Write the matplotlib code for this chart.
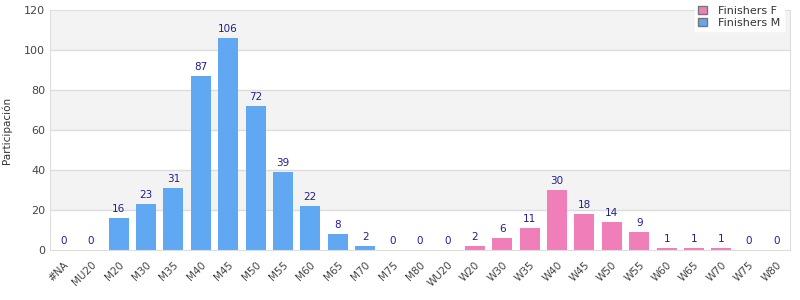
import numpy as np
import matplotlib.pyplot as plt
from matplotlib.patches import Patch

# Categorias y valores
cats_m = ['#NA', 'MU20', 'M20', 'M30', 'M35', 'M40', 'M45', 'M50', 'M55',
          'M60', 'M65', 'M70', 'M75', 'M80']
vals_m = [0, 0, 16, 23, 31, 87, 106, 72, 39, 22, 8, 2, 0, 0]
cats_f = ['WU20', 'W20', 'W30', 'W35', 'W40', 'W45', 'W50', 'W55', 'W60',
          'W65', 'W70', 'W75', 'W80']
vals_f = [0, 2, 6, 11, 30, 18, 14, 9, 1, 1, 1, 0, 0]

col_m = '#60a8f2'
col_f = '#f07fb9'
col_lab = '#1f1f8f'

cats = cats_m + cats_f
x_m = np.arange(len(cats_m))
x_f = np.arange(len(cats_m), len(cats))

fig = plt.figure(figsize=(8, 3), dpi=100)
ax = fig.add_axes([0.0625, 0.1667, 0.925, 0.8])

# bandas alternas de fondo
for y0 in range(0, 120, 20):
    if (y0 // 20) % 2 == 1:
        ax.axhspan(y0, y0 + 20, color='#f3f3f3', zorder=0, lw=0)
for y0 in range(20, 120, 20):
    ax.axhline(y0, color='#dddddd', lw=1, zorder=1)

ax.bar(x_m, vals_m, width=0.73, color=col_m, zorder=2)
ax.bar(x_f, vals_f, width=0.73, color=col_f, zorder=2)

for xs, vs in ((x_m, vals_m), (x_f, vals_f)):
    for xi, v in zip(xs, vs):
        ax.text(xi, v + 2, str(v), ha='center', va='bottom',
                fontsize=7.5, color=col_lab, zorder=3)

ax.set_xlim(-0.5, len(cats) - 0.5)
ax.set_ylim(0, 120)
ax.set_yticks(range(0, 121, 20))
ax.set_xticks(np.arange(len(cats)))
ax.set_xticklabels(cats, rotation=45, ha='right', rotation_mode='anchor')
ax.tick_params(length=0, labelsize=8, labelcolor='#444444')
ax.tick_params(axis='x', pad=7, labelsize=7.5)
for s in ax.spines.values():
    s.set_color('#dddddd')
ax.set_ylabel('Participación', fontsize=7.5, color='#333333', labelpad=9)

handles = [Patch(facecolor=col_f, edgecolor='#777777', label='Finishers F'),
           Patch(facecolor=col_m, edgecolor='#777777', label='Finishers M')]
leg = ax.legend(handles=handles, loc='upper right', bbox_to_anchor=(0.995, 1.04),
                fontsize=8, frameon=True, fancybox=False, framealpha=1,
                edgecolor='white', handlelength=0.8, handleheight=0.8,
                borderpad=0.3, labelspacing=0.15, handletextpad=1.0,
                borderaxespad=0.2)
for t in leg.get_texts():
    t.set_color('#333333')

fig.savefig('out.png', dpi=100)
